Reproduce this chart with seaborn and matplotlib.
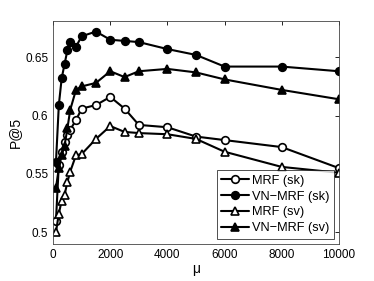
import numpy as np
import pandas as pd
import matplotlib
matplotlib.use("Agg")
import matplotlib.pyplot as plt
import seaborn as sns

# valori
mu = [100, 200, 300, 400, 500, 600, 800, 1000, 1500, 2000, 2500, 3000, 4000, 5000, 6000, 8000, 10000]
mrf_sk = [0.510, 0.558, 0.569, 0.577, 0.583, 0.588, 0.596, 0.606, 0.609, 0.616, 0.606, 0.592, 0.590, 0.582, 0.579, 0.573, 0.555]
vnmrf_sk = [0.560, 0.609, 0.632, 0.644, 0.656, 0.663, 0.659, 0.668, 0.672, 0.665, 0.664, 0.663, 0.657, 0.652, 0.642, 0.642, 0.638]
mrf_sv = [0.500, 0.516, 0.527, 0.532, 0.543, 0.552, 0.566, 0.567, 0.580, 0.591, 0.586, 0.585, 0.584, 0.580, 0.569, 0.556, 0.551]
vnmrf_sv = [0.538, 0.555, 0.566, 0.574, 0.589, 0.605, 0.622, 0.625, 0.628, 0.638, 0.633, 0.638, 0.640, 0.637, 0.631, 0.622, 0.614]

labels = ["MRF (sk)", "VN\u2212MRF (sk)", "MRF (sv)", "VN\u2212MRF (sv)"]
series = [mrf_sk, vnmrf_sk, mrf_sv, vnmrf_sv]
markers = ["o", "o", "^", "^"]
faces = ["white", "black", "white", "black"]

sns.set_style("white")
plt.rcParams["font.family"] = ["Liberation Sans", "DejaVu Sans"]
plt.rcParams["text.color"] = "black"
plt.rcParams["axes.labelcolor"] = "black"
plt.rcParams["xtick.color"] = "black"
plt.rcParams["ytick.color"] = "black"

fig = plt.figure(figsize=(3.74, 2.81), dpi=100)
ax = fig.add_axes([0.142, 0.132, 0.764, 0.793])

for vals, lab, mk, fc in zip(series, labels, markers, faces):
    df = pd.DataFrame({"mu": mu, "p5": vals})
    sns.lineplot(data=df, x="mu", y="p5", ax=ax, color="black", linewidth=1.5,
                 marker=mk, markersize=5.5, markerfacecolor=fc,
                 markeredgecolor="black", markeredgewidth=1.2, label=lab)

ax.set_xlim(0, 10000)
ax.set_ylim(0.49, 0.681)
ax.set_xticks([0, 2000, 4000, 6000, 8000, 10000])
ax.set_yticks([0.5, 0.55, 0.6, 0.65])
ax.set_yticklabels(["0.5", "0.55", "0.6", "0.65"])
ax.tick_params(direction="in", top=True, right=True, length=3, labelsize=8.5, width=0.6)
for s in ax.spines.values():
    s.set_linewidth(0.6)
    s.set_color("#444444")

ax.set_xlabel("\u03bc", fontsize=10, labelpad=1)
ax.set_ylabel("P@5", fontsize=10, labelpad=2)

leg = ax.legend(loc="lower right", fontsize=9.2, frameon=True, fancybox=False,
                handlelength=2.2, handletextpad=0.2, borderpad=0.35,
                labelspacing=0.3, borderaxespad=0.4)
leg.get_frame().set_edgecolor("black")
leg.get_frame().set_linewidth(0.6)

fig.savefig("out.png", dpi=100)
